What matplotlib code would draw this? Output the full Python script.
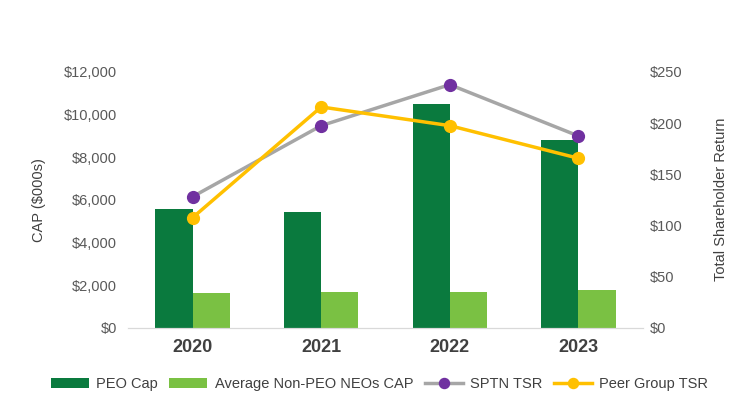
import matplotlib
matplotlib.use("Agg")
from matplotlib import pyplot as plt
from matplotlib.ticker import FuncFormatter
import numpy as np

plt.rcParams['font.family'] = ['Liberation Sans', 'DejaVu Sans']

# Data
years = ["2020", "2021", "2022", "2023"]
peo_cap = [5570, 5440, 10500, 8790]
neo_cap = [1610, 1680, 1680, 1755]
sptn_tsr = [128, 197.5, 237.6, 187.4]
peer_tsr = [107.5, 215.8, 197.5, 165.6]

# Colours
peo_color = "#0A7A3E"
neo_color = "#7AC143"
sptn_line = "#A6A6A6"
sptn_marker = "#7030A0"
peer_color = "#FFC000"
text_color = "#595959"

fig = plt.figure(figsize=(7.5, 4.09), dpi=100)
ax = fig.add_axes([0.171, 0.199, 0.686, 0.625])
ax2 = ax.twinx()

x = np.arange(len(years))
w = 0.29
ax.bar(x - w / 2, peo_cap, w, color=peo_color, label="PEO Cap", zorder=2)
ax.bar(x + w / 2, neo_cap, w, color=neo_color, label="Average Non-PEO NEOs CAP", zorder=2)

ax2.plot(x, sptn_tsr, color=sptn_line, lw=2.5, marker="o", markersize=8.5,
         markerfacecolor=sptn_marker, markeredgecolor=sptn_marker, label="SPTN TSR")
ax2.plot(x, peer_tsr, color=peer_color, lw=2.5, marker="o", markersize=8.5,
         markerfacecolor=peer_color, markeredgecolor=peer_color, label="Peer Group TSR")

ax.set_xlim(-0.5, 3.5)
ax.set_ylim(0, 12000)
ax2.set_ylim(0, 250)
ax.set_yticks(np.arange(0, 12001, 2000))
ax2.set_yticks(np.arange(0, 251, 50))
ax.yaxis.set_major_formatter(FuncFormatter(lambda v, p: "${:,.0f}".format(v)))
ax2.yaxis.set_major_formatter(FuncFormatter(lambda v, p: "${:,.0f}".format(v)))

ax.set_xticks(x)
ax.set_xticklabels(years, fontsize=13, fontweight="bold", color="#404040")

for a in (ax, ax2):
    for s in ["top", "left", "right"]:
        a.spines[s].set_visible(False)
    a.spines["bottom"].set_color("#D9D9D9")
    a.tick_params(length=0, labelsize=10.5, labelcolor=text_color)
ax.tick_params(axis="y", pad=8)
ax2.tick_params(axis="y", pad=5)
ax.tick_params(axis="x", pad=8, labelsize=13, labelcolor="#404040")

ax.set_ylabel("CAP ($000s)", fontsize=10.5, color="#404040", labelpad=13)
ax2.set_ylabel("Total Shareholder Return", fontsize=10.5, color="#404040", labelpad=23)

h1, l1 = ax.get_legend_handles_labels()
h2, l2 = ax2.get_legend_handles_labels()
fig.legend(h1 + h2, l1 + l2, loc="center", bbox_to_anchor=(0.506, 0.06), ncol=4,
           frameon=False, fontsize=10.5, handlelength=2.6, columnspacing=0.8,
           handletextpad=0.5, labelcolor="#404040", markerscale=0.85)

fig.savefig("out.png", dpi=100)
